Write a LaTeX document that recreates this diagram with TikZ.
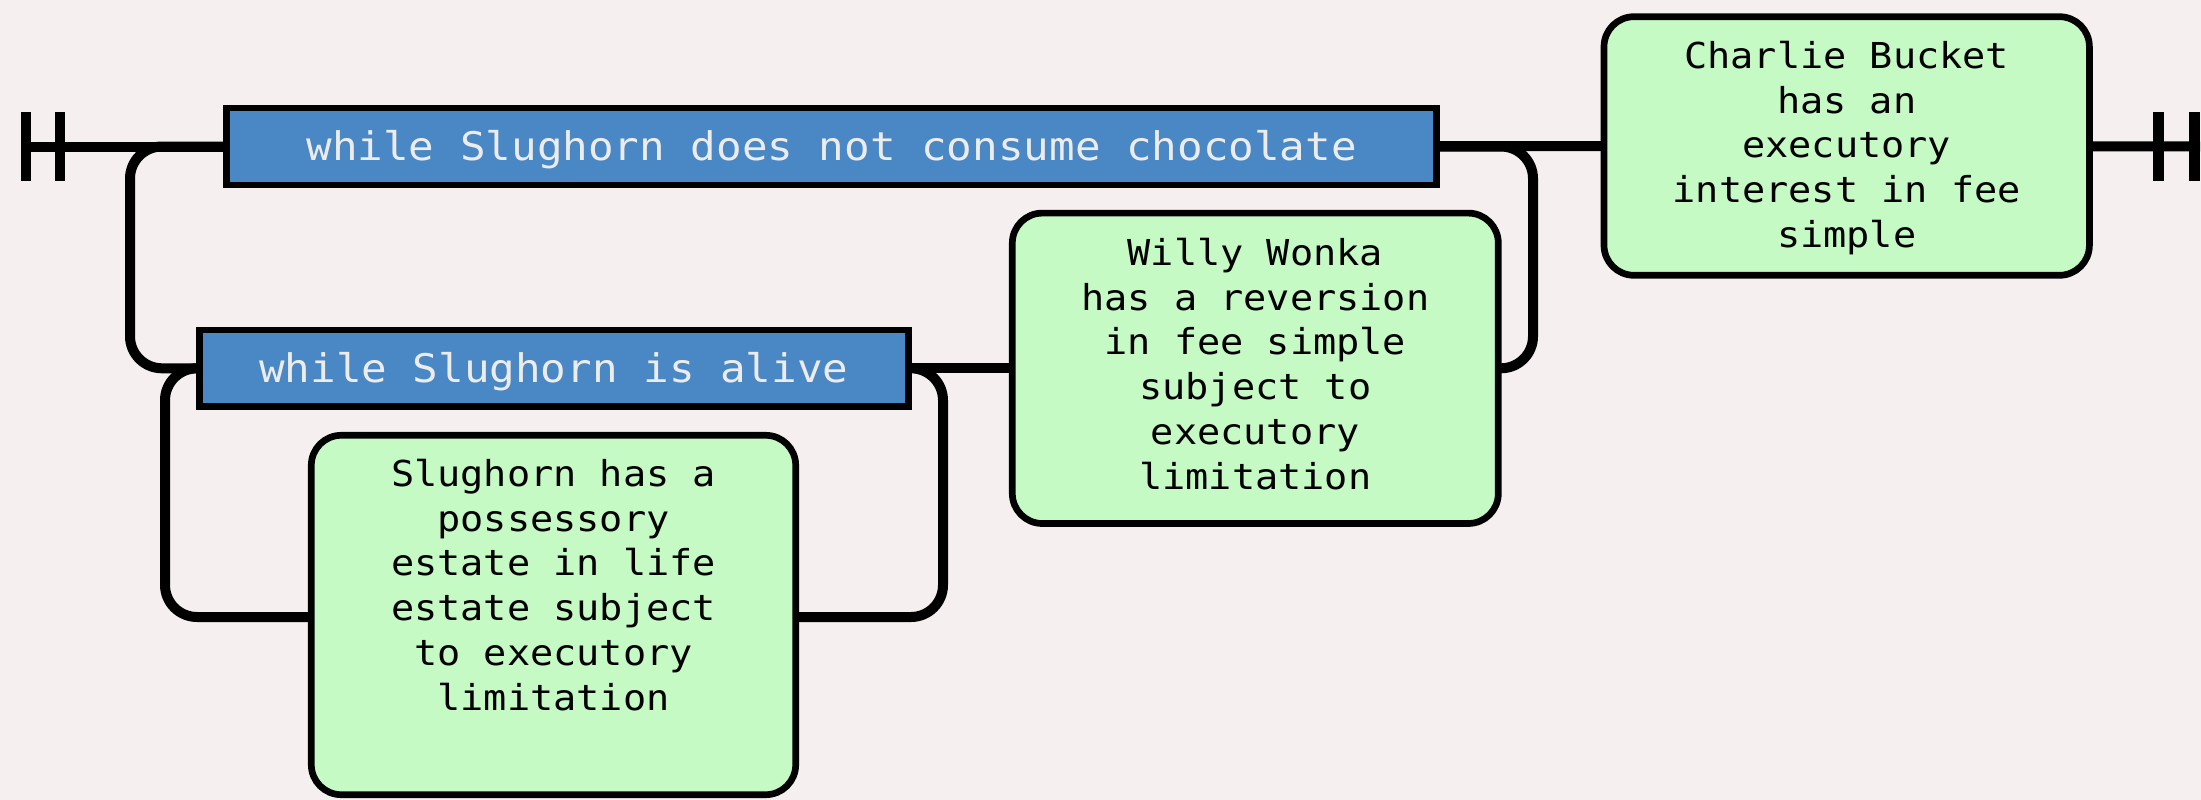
\documentclass[tikz,border=0pt]{standalone}
\usepackage{fontspec}
\newfontfamily\rrmono[FakeStretch=1.08]{DejaVu Sans Mono}
\definecolor{rrbg}{RGB}{245,239,239}
\definecolor{rrblue}{RGB}{74,135,197}
\definecolor{rrgreen}{RGB}{197,250,197}
\definecolor{rrtext}{RGB}{236,236,236}
\pgfdeclarelayer{back}
\pgfdeclarelayer{bg}
\pgfsetlayers{back,bg,main}
\begin{document}
\begin{tikzpicture}[x=1pt,y=-1pt,
  conn/.style={draw=black, line width=10pt},
  loop/.style={conn, rounded corners=32pt},
  barline/.style={draw=black, line width=10.5pt},
  bluebox/.style={draw=black, line width=6.7pt, fill=rrblue, text=rrtext,
    font=\rrmono\fontsize{39.4}{45}\selectfont, inner sep=0pt,
    text height=30pt, text depth=2pt},
  greenbox/.style={draw=black, line width=6.7pt, fill=rrgreen, rounded corners=30pt, inner sep=0pt},
  gtext/.style={font=\rrmono\fontsize{35.7}{44.8}\selectfont, align=center, anchor=north, inner sep=0pt, text=black},
]
\useasboundingbox (0,0) rectangle (2201,800);
\begin{pgfonlayer}{back}
  \fill[rrbg] (0,0) rectangle (2201,800);
\end{pgfonlayer}

% boxes
\node[bluebox, minimum width=1210pt, minimum height=76.8pt] (top) at (831.7,146.5) {while Slughorn does not consume chocolate};
\node[bluebox, minimum width=709pt, minimum height=76.7pt] (alive) at (553.8,368.3) {while Slughorn is alive};
\node[greenbox, minimum width=485.4pt, minimum height=258.6pt] (charlie) at (1846.7,146) {};
\node[greenbox, minimum width=486pt, minimum height=310.4pt] (willy) at (1255.3,368.3) {};
\node[greenbox, minimum width=484.4pt, minimum height=359.4pt] (slug) at (553.5,615) {};

\node[gtext] (charlietext) at (1846.7,38) {\rule{0pt}{30pt}Charlie Bucket\\has an\\executory\\interest in fee\\simple};
\node[gtext] (willytext) at (1255.3,235) {\rule{0pt}{30pt}Willy Wonka\\has a reversion\\in fee simple\\subject to\\executory\\limitation};
\node[gtext] (slugtext) at (553.5,456) {\rule{0pt}{30pt}Slughorn has a\\possessory\\estate in life\\estate subject\\to executory\\limitation};

% junction points
\coordinate (start) at (21,146.5);
\coordinate (sbar1) at (26,146.5);
\coordinate (sbar2) at (60,146.5);
\coordinate (endp) at (2200,146.5);
\coordinate (ebar1) at (2158.5,146.5);
\coordinate (ebar2) at (2194.5,146.5);
\coordinate (L1) at (130,146.5);
\coordinate (L2) at (130,368.3);
\coordinate (I1) at (165,368.3);
\coordinate (I2) at (165,617);
\coordinate (I3) at (943,368.3);
\coordinate (I4) at (943,617);
\coordinate (R1) at (1533,146.5);
\coordinate (R2) at (1533,368.3);

\begin{pgfonlayer}{bg}
  \draw[conn] (start) -- (top.center);
  \draw[conn] (top.center) -- (charlie.center);
  \draw[conn] (charlie.center) -- (endp);
  \draw[loop] (top.center) -- (L1) -- (L2) -- (alive.center);
  \draw[loop] (alive.center) -- (I1) -- (I2) -- (slug.center |- I2);
  \draw[loop] (slug.center |- I4) -- (I4) -- (I3) -- (alive.center);
  \draw[conn] (alive.center) -- (willy.center);
  \draw[loop] (willy.center) -- (R2) -- (R1) -- (top.center);
\end{pgfonlayer}

% start and end bars
\draw[barline] ([yshift=34.5pt]sbar1) -- ([yshift=-34.5pt]sbar1);
\draw[barline] ([yshift=34.5pt]sbar2) -- ([yshift=-34.5pt]sbar2);
\draw[barline] ([yshift=34.5pt]ebar1) -- ([yshift=-34.5pt]ebar1);
\draw[barline] ([yshift=34.5pt]ebar2) -- ([yshift=-34.5pt]ebar2);
\end{tikzpicture}
\end{document}
